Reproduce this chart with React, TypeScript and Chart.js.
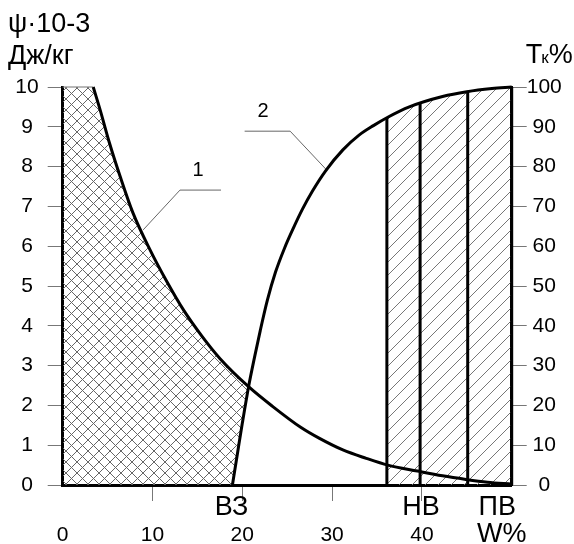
import React, { useEffect, useRef } from 'react';
import { Chart, registerables } from 'chart.js';

Chart.register(...registerables);

const FONT = "'Liberation Sans', Arial, Helvetica, sans-serif";

// Curve 1: ψ·10^-3, Дж/кг (left axis)
const curve1X = [3.4, 4.2, 5.2, 6.4, 7.8, 9.7, 11.5, 13.5, 15.5, 17.5, 20.7, 23.4, 26.5, 28.6, 31.2, 33.8, 36.2, 39.5, 42.3, 44.9, 47.3, 50];
const curve1Y = [10, 9.4, 8.6, 7.75, 6.85, 5.92, 5.15, 4.38, 3.74, 3.18, 2.47, 1.97, 1.45, 1.17, 0.88, 0.67, 0.5, 0.35, 0.23, 0.14, 0.07, 0.02];

// Curve 2: Tк % (right axis)
const curve2X = [18.9, 19.5, 20.0, 20.7, 21.4, 22.0, 22.8, 23.7, 24.7, 25.7, 26.7, 27.8, 29.3, 31.2, 33.0, 34.6, 36.2, 38.6, 42.3, 45.0, 47.8, 50];
const curve2Y = [0, 8.5, 15.5, 24.7, 32.5, 38.8, 46.5, 53.5, 59.5, 64.6, 69.3, 73.8, 79.0, 84.2, 87.9, 90.3, 92.4, 95.0, 97.6, 98.8, 99.6, 100];

// Vertical boundary lines (moisture limits) and their heights on curve 2
const boundaryX = [36.1, 39.8, 45.1, 50];
const boundaryTop = [92.3, 96.0, 98.8, 100];

// Hatched zone range (x)
const hatchFromX = 36.1;

// Leader lines for curve labels
const leader1X = [8.96, 13.06, 17.63];
const leader1Y = [6.41, 7.41, 7.41];
const leader2X = [29.33, 25.33, 20.26];
const leader2Y = [79.3, 88.9, 88.9];

const curveLabels = ['1', '2'];
const curveLabelX = [15.07, 22.3];
const curveLabelY = [7.91, 93.8];

// Axis labels
const xTickValues = [0, 10, 20, 30, 40];
const markerLabels = ['ВЗ', 'НВ', 'ПВ'];
const markerX = [18.8, 39.9, 48.4];
const xAxisName = 'W%';
const xAxisNameX = 48.9;

function makeCrossPattern(ctx: CanvasRenderingContext2D) {
  const s = 11;
  const c = document.createElement('canvas');
  c.width = s; c.height = s;
  const g = c.getContext('2d')!;
  g.strokeStyle = '#666';
  g.lineWidth = 1;
  g.beginPath();
  g.moveTo(-1, -1); g.lineTo(s + 1, s + 1);
  g.moveTo(s + 1, -1); g.lineTo(-1, s + 1);
  g.stroke();
  return ctx.createPattern(c, 'repeat')!;
}

function makeDiagPattern(ctx: CanvasRenderingContext2D) {
  const s = 13;
  const c = document.createElement('canvas');
  c.width = s; c.height = s;
  const g = c.getContext('2d')!;
  g.strokeStyle = '#777';
  g.lineWidth = 1;
  g.beginPath();
  g.moveTo(-1, s + 1); g.lineTo(s + 1, -1);
  g.moveTo(-1, 1); g.lineTo(1, -1);
  g.moveTo(s - 1, s + 1); g.lineTo(s + 1, s - 1);
  g.stroke();
  return ctx.createPattern(c, 'repeat')!;
}

function traceCurve(ctx: CanvasRenderingContext2D, pts: any[], start: boolean) {
  pts.forEach((p, i) => {
    if (i === 0) {
      if (start) ctx.moveTo(p.x, p.y); else ctx.lineTo(p.x, p.y);
    } else {
      const q = pts[i - 1];
      if (q.cp2x !== undefined && p.cp1x !== undefined) {
        ctx.bezierCurveTo(q.cp2x, q.cp2y, p.cp1x, p.cp1y, p.x, p.y);
      } else {
        ctx.lineTo(p.x, p.y);
      }
    }
  });
}

const hatchPlugin = {
  id: 'hatchPlugin',
  beforeDatasetsDraw(chart: any) {
    const { ctx, chartArea, scales } = chart;
    const x = scales.x, y = scales.y;
    const m1 = chart.getDatasetMeta(0);
    const m2 = chart.getDatasetMeta(1);
    m1.dataset.updateControlPoints(chartArea, 'x');
    m2.dataset.updateControlPoints(chartArea, 'x');
    const p1 = m1.data;
    const p2 = m2.data;
    const x0 = x.getPixelForValue(0);
    const yTop = y.getPixelForValue(10);
    const yBot = y.getPixelForValue(0);

    // Cross-hatched zone: under curve 1 and left of curve 2
    ctx.save();
    ctx.beginPath();
    ctx.moveTo(x0, yTop);
    traceCurve(ctx, p1, false);
    ctx.lineTo(p1[p1.length - 1].x, yBot);
    ctx.lineTo(x0, yBot);
    ctx.closePath();
    ctx.clip();
    ctx.beginPath();
    traceCurve(ctx, p2, true);
    ctx.lineTo(x0, chartArea.top);
    ctx.lineTo(x0, yBot);
    ctx.closePath();
    ctx.clip();
    ctx.fillStyle = makeCrossPattern(ctx);
    ctx.fillRect(chartArea.left, chartArea.top, chartArea.width, chartArea.height);
    ctx.restore();

    // Diagonal hatch zone under curve 2 right of first boundary
    ctx.save();
    const xa = x.getPixelForValue(hatchFromX);
    const xb = x.getPixelForValue(50);
    ctx.beginPath();
    ctx.rect(xa, chartArea.top - 2, xb - xa, yBot - chartArea.top + 2);
    ctx.clip();
    ctx.beginPath();
    traceCurve(ctx, p2, true);
    ctx.lineTo(p2[p2.length - 1].x, yBot);
    ctx.lineTo(p2[0].x, yBot);
    ctx.closePath();
    ctx.clip();
    ctx.fillStyle = makeDiagPattern(ctx);
    ctx.fillRect(chartArea.left, chartArea.top - 2, chartArea.width, chartArea.height + 2);
    ctx.restore();
  },
  afterDraw(chart: any) {
    const { ctx, chartArea, scales } = chart;
    const x = scales.x, y = scales.y, y2 = scales.y2;
    ctx.save();
    ctx.fillStyle = '#000';
    ctx.textAlign = 'left';
    ctx.textBaseline = 'alphabetic';
    ctx.font = `27px ${FONT}`;
    ctx.fillText('ψ·10-3', 8, 32);
    ctx.fillText('Дж/кг', 8, 64);

    // Tк%
    let tx = chartArea.right + 14;
    const tb = 63;
    ctx.font = `27px ${FONT}`;
    ctx.fillText('T', tx, tb);
    tx += ctx.measureText('T').width - 1;
    ctx.font = `17px ${FONT}`;
    ctx.fillText('к', tx, tb);
    tx += ctx.measureText('к').width;
    ctx.font = `27px ${FONT}`;
    ctx.fillText('%', tx, tb);

    // curve labels
    ctx.font = `20px ${FONT}`;
    ctx.textAlign = 'center';
    ctx.textBaseline = 'middle';
    ctx.fillText(curveLabels[0], x.getPixelForValue(curveLabelX[0]), y.getPixelForValue(curveLabelY[0]));
    ctx.fillText(curveLabels[1], x.getPixelForValue(curveLabelX[1]), y2.getPixelForValue(curveLabelY[1]));

    // moisture markers
    ctx.font = `27px ${FONT}`;
    ctx.textBaseline = 'alphabetic';
    markerLabels.forEach((t, i) => {
      ctx.fillText(t, x.getPixelForValue(markerX[i]), chartArea.bottom + 30);
    });
    ctx.fillText(xAxisName, x.getPixelForValue(xAxisNameX), chartArea.bottom + 57);
    ctx.restore();
  },
};

export default function App() {
  const ref = useRef<HTMLCanvasElement>(null);

  useEffect(() => {
    const canvas = ref.current!;
    const pts = (xs: number[], ys: number[]) => xs.map((v, i) => ({ x: v, y: ys[i] }));
    const boundaries = boundaryX.map((bx, i) => ({
      data: [{ x: bx, y: 0 }, { x: bx, y: boundaryTop[i] }],
      yAxisID: 'y2',
      borderColor: '#000',
      borderWidth: 3,
      pointRadius: 0,
      tension: 0,
      clip: false as any,
    }));
    const chart = new Chart(canvas, {
      type: 'line',
      data: {
        datasets: [
          {
            data: pts(curve1X, curve1Y),
            yAxisID: 'y',
            borderColor: '#000',
            borderWidth: 3,
            pointRadius: 0,
            cubicInterpolationMode: 'monotone',
            clip: false as any,
          },
          {
            data: pts(curve2X, curve2Y),
            yAxisID: 'y2',
            borderColor: '#000',
            borderWidth: 3,
            pointRadius: 0,
            cubicInterpolationMode: 'monotone',
            clip: false as any,
          },
          {
            data: [{ x: 0, y: 10 }, { x: curve1X[0], y: curve1Y[0] }],
            yAxisID: 'y',
            borderColor: '#888',
            borderWidth: 1.2,
            pointRadius: 0,
            clip: false as any,
          },
          {
            data: pts(leader1X, leader1Y),
            yAxisID: 'y',
            borderColor: '#666',
            borderWidth: 1,
            pointRadius: 0,
          },
          {
            data: pts(leader2X, leader2Y),
            yAxisID: 'y2',
            borderColor: '#666',
            borderWidth: 1,
            pointRadius: 0,
          },
          ...boundaries,
        ] as any,
      },
      options: {
        responsive: false,
        animation: false,
        devicePixelRatio: 1,
        layout: { padding: { top: 87, left: 0, right: 0, bottom: 0 } },
        plugins: { legend: { display: false }, tooltip: { enabled: false } },
        elements: { line: { fill: false } },
        scales: {
          x: {
            type: 'linear',
            min: 0,
            max: 50,
            afterFit: (s: any) => { s.height = 59; },
            afterBuildTicks: (s: any) => {
              s.ticks = [...xTickValues, 50].map((v) => ({ value: v }));
            },
            ticks: {
              autoSkip: false,
              maxRotation: 0,
              padding: 22,
              color: '#000',
              font: { family: FONT, size: 21 },
              callback: (v: any) => (xTickValues.includes(Number(v)) ? String(v) : ''),
            },
            grid: {
              drawOnChartArea: false,
              tickLength: 16,
              color: (c: any) => (c.tick && (c.tick.value === 0 || c.tick.value === 50) ? 'rgba(0,0,0,0)' : '#777'),
            },
            border: { color: '#000', width: 3 },
          },
          y: {
            type: 'linear',
            position: 'left',
            min: 0,
            max: 10,
            afterFit: (s: any) => { s.width = 62.7; },
            ticks: {
              stepSize: 1,
              crossAlign: 'center',
              padding: 9,
              color: '#000',
              font: { family: FONT, size: 21 },
            },
            grid: { drawOnChartArea: false, tickLength: 15, color: '#777' },
            border: { color: '#000', width: 3 },
          },
          y2: {
            type: 'linear',
            position: 'right',
            min: 0,
            max: 100,
            afterFit: (s: any) => { s.width = 62.3; },
            ticks: {
              stepSize: 10,
              crossAlign: 'center',
              padding: 0,
              color: '#000',
              font: { family: FONT, size: 21 },
            },
            grid: { drawOnChartArea: false, tickLength: 15, color: '#777' },
            border: { color: '#000', width: 3 },
          },
        },
      } as any,
      plugins: [hatchPlugin],
    });
    return () => chart.destroy();
  }, []);

  return (
    <canvas
      ref={ref}
      width={574}
      height={544}
      style={{ position: 'absolute', left: 0, top: 0, width: 574, height: 544 }}
    />
  );
}
